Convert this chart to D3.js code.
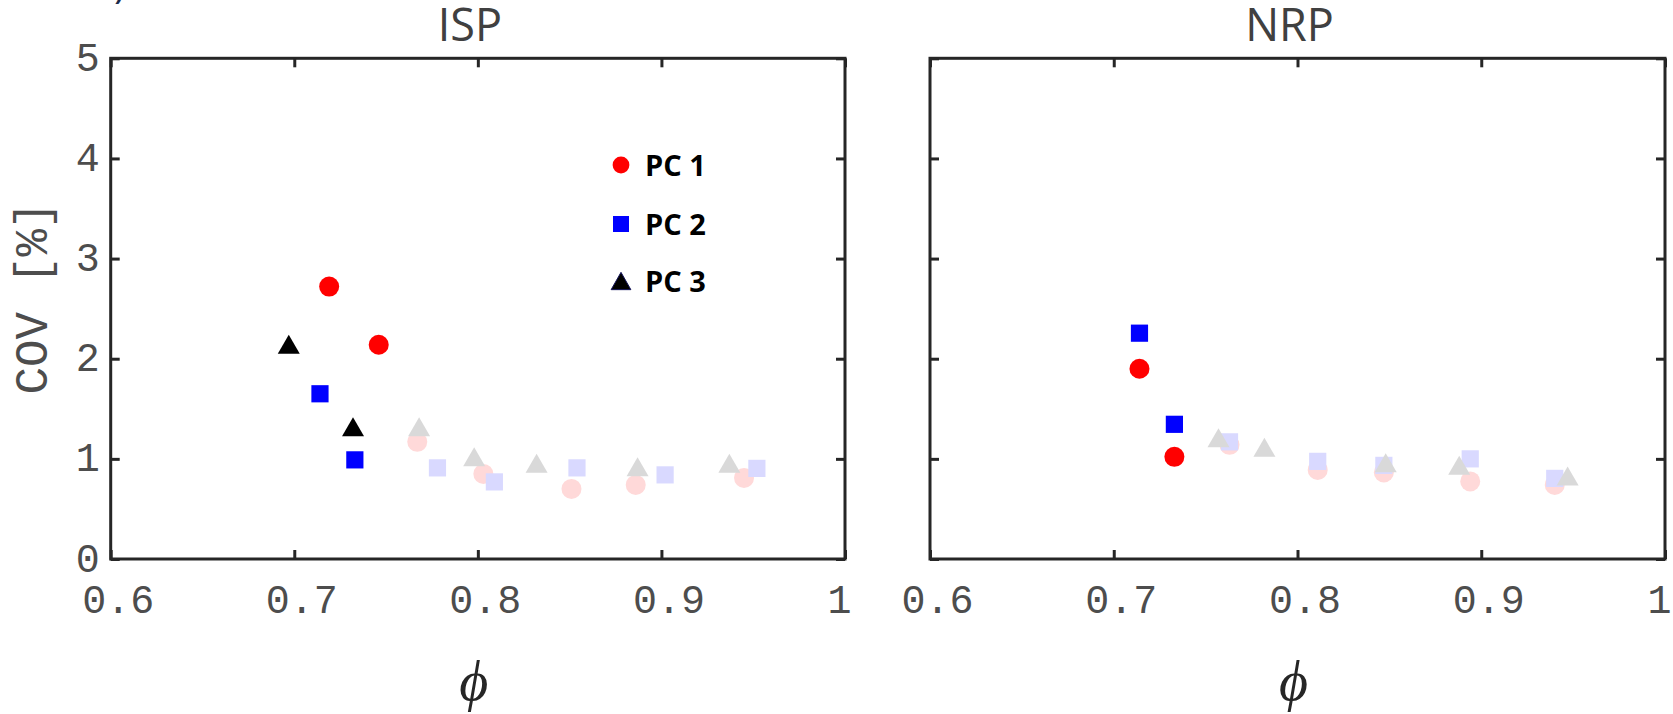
<!DOCTYPE html>
<html>
<head>
<meta charset="utf-8">
<script src="https://cdn.jsdelivr.net/npm/d3@7"></script>
<style>
  html, body { margin: 0; padding: 0; background: #ffffff; }
  svg { display: block; }
</style>
</head>
<body>
<svg id="chart" width="1673" height="714"></svg>
<script>
// ---- data ----
const panelTitles = ["ISP", "NRP"];
const seriesLabels = ["PC 1", "PC 2", "PC 3"];
const xTicks = [0.6, 0.7, 0.8, 0.9, 1];
const xTickLabels = ["0.6", "0.7", "0.8", "0.9", "1"];
const yTicks = [0, 1, 2, 3, 4, 5];
const yTickLabels = ["0", "1", "2", "3", "4", "5"];

// ISP panel: equivalence ratio (phi) and COV [%] per principal component
const ispPhiPC1 = [0.719, 0.746, 0.767, 0.803, 0.851, 0.886, 0.945];
const ispCovPC1 = [2.72, 2.14, 1.17, 0.85, 0.70, 0.74, 0.81];
const ispPhiPC2 = [0.714, 0.733, 0.778, 0.809, 0.854, 0.902, 0.952];
const ispCovPC2 = [1.65, 0.99, 0.91, 0.77, 0.91, 0.84, 0.905];
const ispPhiPC3 = [0.697, 0.732, 0.768, 0.798, 0.832, 0.887, 0.937];
const ispCovPC3 = [2.145, 1.32, 1.32, 1.02, 0.955, 0.92, 0.955];

// NRP panel
const nrpPhiPC1 = [0.714, 0.733, 0.763, 0.811, 0.847, 0.894, 0.940];
const nrpCovPC1 = [1.90, 1.02, 1.14, 0.89, 0.865, 0.775, 0.74];
const nrpPhiPC2 = [0.714, 0.733, 0.763, 0.811, 0.847, 0.894, 0.940];
const nrpCovPC2 = [2.255, 1.345, 1.17, 0.975, 0.935, 1.00, 0.805];
const nrpPhiPC3 = [0.757, 0.782, 0.848, 0.888, 0.947];
const nrpCovPC3 = [1.21, 1.115, 0.96, 0.935, 0.83];

// number of leading points per series drawn in full colour (rest are faded)
const ispHighlighted = [2, 2, 2];
const nrpHighlighted = [2, 2, 0];

// ---- styling ----
const strongColors = ["#ff0000", "#0000ff", "#000000"];
const fadedColors = ["#ffd9d9", "#d9d9ff", "#d9d9d9"];
const axisColor = "#262626";
const monoFont = "'Liberation Mono', 'DejaVu Sans Mono', monospace";
const tickTextColor = "#4d4d4d";

const svg = d3.select("#chart");
const plotTop = 58.3, plotBottom = 559;
const panelExtents = [[110.7, 845], [930, 1665]];

const panels = [
  { title: panelTitles[0], highlighted: ispHighlighted,
    series: [[ispPhiPC1, ispCovPC1], [ispPhiPC2, ispCovPC2], [ispPhiPC3, ispCovPC3]] },
  { title: panelTitles[1], highlighted: nrpHighlighted,
    series: [[nrpPhiPC1, nrpCovPC1], [nrpPhiPC2, nrpCovPC2], [nrpPhiPC3, nrpCovPC3]] }
];

// marker path generators centred on (0,0)
function circlePath(r) {
  return `M${-r},0A${r},${r} 0 1,0 ${r},0A${r},${r} 0 1,0 ${-r},0Z`;
}
function squarePath(s) {
  const h = s / 2;
  return `M${-h},${-h}H${h}V${h}H${-h}Z`;
}
function trianglePath(w, hgt) {
  return `M0,${-hgt / 2}L${w / 2},${hgt / 2}L${-w / 2},${hgt / 2}Z`;
}
const plotMarkers = [circlePath(10), squarePath(17.2), trianglePath(22, 19)];
const legendMarkers = [circlePath(8.4), squarePath(16), trianglePath(19.7, 17.3)];

const y = d3.scaleLinear().domain([0, 5]).range([plotBottom, plotTop]);

panels.forEach((panel, pi) => {
  const [x0, x1] = panelExtents[pi];
  const x = d3.scaleLinear().domain([0.6, 1]).range([x0, x1]);
  const g = svg.append("g");

  const pointsOf = (si) => {
    const [phi, cov] = panel.series[si];
    return phi.map((p, k) => ({ phi: p, cov: cov[k], strong: k < panel.highlighted[si] }));
  };

  // faded points first, then full-colour ones; series order PC1, PC2, PC3
  [false, true].forEach(strong => {
    panel.series.forEach((_, si) => {
      g.append("g").selectAll("path")
        .data(pointsOf(si).filter(d => d.strong === strong))
        .join("path")
        .attr("d", plotMarkers[si])
        .attr("transform", d => `translate(${x(d.phi)},${y(d.cov)})`)
        .attr("fill", strong ? strongColors[si] : fadedColors[si]);
    });
  });

  // box frame
  g.append("rect")
    .attr("x", x0).attr("y", plotTop)
    .attr("width", x1 - x0).attr("height", plotBottom - plotTop)
    .attr("fill", "none").attr("stroke", axisColor).attr("stroke-width", 3);

  const styleTicks = sel => {
    sel.select(".domain").remove();
    sel.selectAll(".tick line").attr("stroke", axisColor).attr("stroke-width", 3);
  };

  // bottom axis with labels
  const bottom = g.append("g")
    .attr("transform", `translate(0,${plotBottom})`)
    .call(d3.axisBottom(x).tickValues(xTicks)
      .tickFormat((d, j) => xTickLabels[j])
      .tickSizeInner(-9).tickSizeOuter(0));
  styleTicks(bottom);
  bottom.selectAll(".tick text")
    .attr("y", 53.5).attr("dy", null)
    .attr("dx", (d, j) => xTickLabels[j].length > 1 ? 7 : -6)
    .attr("text-anchor", "middle")
    .attr("fill", tickTextColor)
    .style("font-family", monoFont).style("font-size", "40px");

  // top axis (ticks only)
  const topAx = g.append("g")
    .attr("transform", `translate(0,${plotTop})`)
    .call(d3.axisTop(x).tickValues(xTicks).tickFormat("")
      .tickSizeInner(-9).tickSizeOuter(0));
  styleTicks(topAx);

  // left axis
  const left = g.append("g")
    .attr("transform", `translate(${x0},0)`)
    .call(d3.axisLeft(y).tickValues(yTicks)
      .tickFormat((d, j) => pi === 0 ? yTickLabels[j] : "")
      .tickSizeInner(-9).tickSizeOuter(0));
  styleTicks(left);
  left.selectAll(".tick text")
    .attr("x", -11).attr("dy", 12)
    .attr("text-anchor", "end")
    .attr("fill", tickTextColor)
    .style("font-family", monoFont).style("font-size", "40px");

  // right axis (ticks only)
  const right = g.append("g")
    .attr("transform", `translate(${x1},0)`)
    .call(d3.axisRight(y).tickValues(yTicks).tickFormat("")
      .tickSizeInner(-9).tickSizeOuter(0));
  styleTicks(right);

  // panel title
  g.append("text")
    .attr("x", (x0 + x1) / 2 - 8).attr("y", 41)
    .attr("text-anchor", "middle")
    .attr("fill", "#404040")
    .style("font-family", "'Open Sans', 'Noto Sans', sans-serif")
    .style("font-size", "45px")
    .text(panel.title);

  // x-axis label
  g.append("text")
    .attr("x", (x0 + x1) / 2 - 4).attr("y", 700)
    .attr("text-anchor", "middle")
    .attr("fill", axisColor)
    .style("font-family", "'Liberation Serif', 'DejaVu Serif', serif")
    .style("font-style", "italic")
    .style("font-size", "56px")
    .text("\u03D5");
});

// y-axis label
svg.append("text")
  .attr("transform", "translate(47,298) rotate(-90)")
  .attr("text-anchor", "middle")
  .attr("fill", tickTextColor)
  .style("font-family", monoFont)
  .style("font-size", "46px")
  .text("COV [%]");

// panel letter (sits mostly above the top edge)
svg.append("text")
  .attr("x", 124).attr("y", -1)
  .attr("text-anchor", "end")
  .attr("fill", "#1c2b4a")
  .style("font-family", "'Open Sans', sans-serif")
  .style("font-weight", 600)
  .style("font-size", "30px")
  .text("b)");

// legend inside the ISP panel
const legendX = 621, legendY = [165, 224, 281];
const legend = svg.append("g");
seriesLabels.forEach((label, i) => {
  legend.append("path")
    .attr("d", legendMarkers[i])
    .attr("transform", `translate(${legendX},${legendY[i]})`)
    .attr("fill", strongColors[i])
    .attr("stroke", i === 2 ? "#14145a" : "none")
    .attr("stroke-width", 1);
  legend.append("text")
    .attr("x", legendX + 24).attr("y", legendY[i] + 11)
    .attr("fill", "#000000")
    .style("font-family", "'Open Sans', 'Noto Sans', sans-serif")
    .style("font-weight", 700)
    .style("font-size", "29px")
    .text(label);
});
</script>
</body>
</html>
